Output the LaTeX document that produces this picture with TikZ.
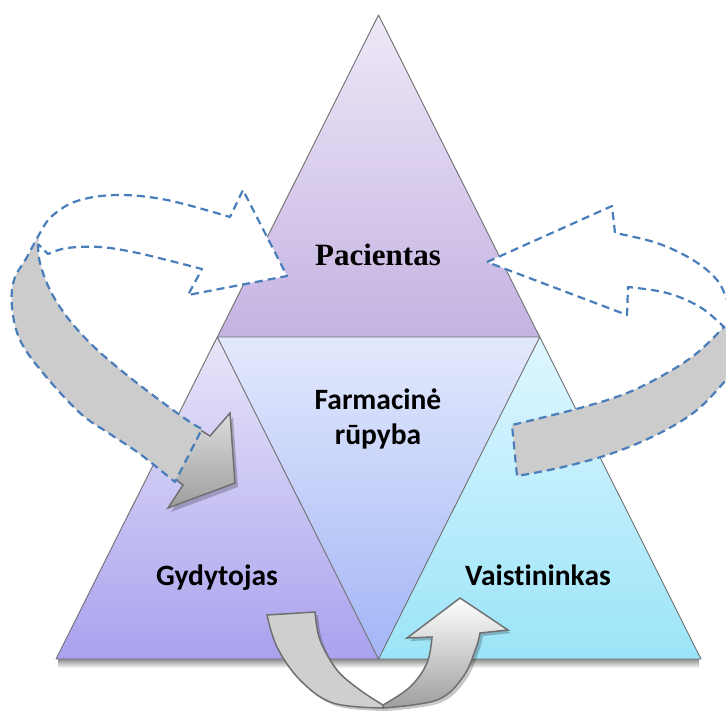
\documentclass[tikz,border=0pt]{standalone}
\usepackage{fontspec}
\newfontfamily\serifb{Liberation Serif}
\newfontfamily\calib[Ligatures=NoCommon]{Carlito}
\definecolor{dashblue}{HTML}{4A7EBB}
\definecolor{edgegrey}{HTML}{707070}
\definecolor{bandgrey}{HTML}{CCCCCC}
\definecolor{topT}{HTML}{EEE8F7}
\definecolor{topB}{HTML}{C4B2E2}
\definecolor{midT}{HTML}{E3E9FC}
\definecolor{midB}{HTML}{A2B5F6}
\definecolor{leftT}{HTML}{E8E5F9}
\definecolor{leftB}{HTML}{A9A2EE}
\definecolor{rightT}{HTML}{DFF7FF}
\definecolor{rightB}{HTML}{9BE4F8}
\tikzset{
  tri/.style={draw=edgegrey, line width=0.9pt, line join=round},
  dashline/.style={draw=dashblue, line width=2.2pt, dash pattern=on 8pt off 5pt, line join=round},
  greyarrow/.style={draw=edgegrey, line width=1.5pt, line join=miter},
  shadowfill/.style={fill=black, opacity=0.22},
  serlabel/.style={font=\fontsize{31}{36}\selectfont\serifb\bfseries, inner sep=0pt},
  sanslabel/.style={font=\fontsize{29.5}{34}\selectfont\calib\bfseries, inner sep=0pt}
}
\begin{document}
\begin{tikzpicture}[x=1pt,y=-1pt]
\useasboundingbox (0,0) rectangle (726,713);
\coordinate (A) at (378.5,15);
\coordinate (L) at (56,659);
\coordinate (R) at (701,659);
\coordinate (ML) at (217.25,337);
\coordinate (MR) at (539.75,337);
\coordinate (MB) at (378.5,659);
% base shadow
\shade[top color=black!45, bottom color=white] (58,659) rectangle (699,668);
% triangles
\shade[top color=topT, bottom color=topB] (A) -- (MR) -- (ML) -- cycle;
\shade[top color=leftT, bottom color=leftB] (ML) -- (MB) -- (L) -- cycle;
\shade[top color=rightT, bottom color=rightB] (MR) -- (R) -- (MB) -- cycle;
\shade[top color=midT, bottom color=midB] (ML) -- (MR) -- (MB) -- cycle;
\draw[tri] (A) -- (R) -- (L) -- cycle;
\draw[tri] (ML) -- (MR) -- (MB) -- cycle;

% ---------- left circular arrow ----------
\path[save path=\leftO] plot[smooth,tension=0.6] coordinates {(38,244) (40,263) (50,290) (67,317) (90,343) (117,367) (150,393) (187,420) (202,429)}
  -- (175,482)
  -- plot[smooth,tension=0.6] coordinates {(175,482) (140,454) (110,434) (80,413) (43,373) (20,340) (12,307) (14,280) (27,257) (40,233) (52,216) (77,201) (117,195) (167,200) (230,217)}
  -- (243,190) -- (287,276) -- (188,295) -- (202,269)
  -- plot[smooth,tension=0.6] coordinates {(202,269) (167,260) (133,252) (100,247) (67,248) (48,254)}
  -- cycle;
\fill[white, use path=\leftO];
% grey arrow (head) underneath the band
\fill[shadowfill] (213,441) -- (233,417) -- (238,487) -- (171,512) -- (186,489) -- (152,461) -- (162,409) -- cycle;
\shade[top color=black!12, bottom color=black!38, greyarrow] (210,436) -- (230,413) -- (235,483) -- (168,508) -- (183,485) -- (150,458) -- (160,405) -- cycle;
% grey band
\fill[bandgrey] plot[smooth,tension=0.6] coordinates {(38,244) (40,263) (50,290) (67,317) (90,343) (117,367) (150,393) (187,420) (202,429)}
  -- (175,482)
  -- plot[smooth,tension=0.6] coordinates {(175,482) (140,454) (110,434) (80,413) (43,373) (20,340) (12,307) (14,280) (27,257) (40,233)}
  -- cycle;
\draw[dashline, use path=\leftO];

% ---------- right circular arrow ----------
\begin{scope}
\clip (0,0) rectangle (726,713);
\path[save path=\rightO] (487,262) -- (612,206) -- (615,233)
  -- plot[smooth,tension=0.6] coordinates {(615,233) (657,243) (693,260) (717,280) (728,302) (738,325) (741,348) (736,367) (726,380) (697,410) (660,433) (613,453) (563,467) (517,476)}
  -- (512,425)
  -- plot[smooth,tension=0.6] coordinates {(512,425) (580,408) (627,393) (667,373) (697,353) (724,327)}
  -- plot[smooth,tension=0.6] coordinates {(724,327) (700,307) (667,293) (628,287)}
  -- (627,315) -- cycle;
\fill[white, use path=\rightO];
\fill[bandgrey] plot[smooth,tension=0.6] coordinates {(512,425) (580,408) (627,393) (667,373) (697,353) (724,327)}
  -- (760,310) -- (760,395) -- (726,380)
  -- plot[smooth,tension=0.6] coordinates {(726,380) (697,410) (660,433) (613,453) (563,467) (517,476)}
  -- cycle;
\draw[dashline, use path=\rightO];
\end{scope}

% ---------- bottom U arrow ----------
\fill[shadowfill] (270,618) -- (318,615)
  -- plot[smooth,tension=0.6] coordinates {(318,615) (323,643) (340,673) (363,693) (386,708)}
  -- plot[smooth,tension=0.6] coordinates {(386,711) (336,706) (303,683) (280,650) (270,618)} -- cycle;
\draw[greyarrow, fill=black!19] (267,615) -- (315,612)
  -- plot[smooth,tension=0.6] coordinates {(315,612) (320,640) (337,670) (360,690) (383,705)}
  -- plot[smooth,tension=0.6] coordinates {(383,708) (333,703) (300,680) (277,647) (267,615)} -- cycle;
\fill[shadowfill] plot[smooth,tension=0.6] coordinates {(386,711) (440,703) (466,680) (479,651) (483,636)}
  -- (511,633) -- (463,601) -- (410,641) -- (435,640)
  -- plot[smooth,tension=0.6] coordinates {(435,640) (430,666) (413,690) (386,708)} -- cycle;
\shade[greyarrow, top color=white, bottom color=black!38] plot[smooth,tension=0.6] coordinates {(383,708) (437,700) (463,677) (476,648) (480,633)}
  -- (508,630) -- (460,598) -- (407,638) -- (432,637)
  -- plot[smooth,tension=0.6] coordinates {(432,637) (427,663) (410,687) (383,705)} -- cycle;

% ---------- labels ----------
\node[serlabel, anchor=base] (pac) at (378,265) {Pacientas};
\node[sanslabel, anchor=base] (farm1) at (378,409) {Farmacinė};
\node[sanslabel, anchor=base] (farm2) at (378,444) {rūpyba};
\node[sanslabel, anchor=base] (gyd) at (217,585) {Gydytojas};
\node[sanslabel, anchor=base] (vai) at (538,585) {Vaistininkas};
\end{tikzpicture}
\end{document}
